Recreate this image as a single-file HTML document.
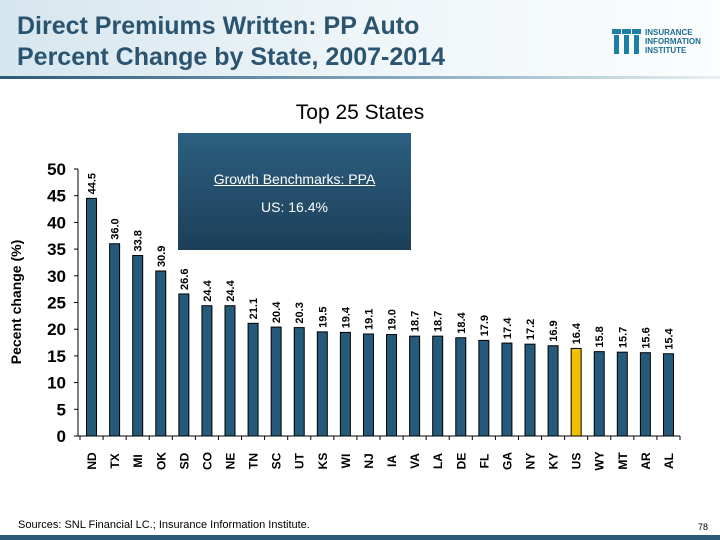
<!DOCTYPE html>
<html><head><meta charset="utf-8"><style>
body{margin:0;width:720px;height:540px;overflow:hidden;background:#fff;font-family:"Liberation Sans",sans-serif;position:relative}
.hdr{position:absolute;left:0;top:0;width:720px;height:78px;background:linear-gradient(90deg,#d6e6ee 0%,#eef5f8 50%,#fbfdfe 100%)}
.hline{position:absolute;left:0;top:76px;width:720px;height:3px;background:linear-gradient(90deg,#2a5a78,#8fb0c2 60%,#e8f0f4)}
.title{position:absolute;left:17px;top:11px;font-size:25px;line-height:31px;color:#2a5470;font-weight:bold}
.logo{position:absolute;left:610px;top:25px}
.sub{position:absolute;left:0;width:720px;top:101px;text-align:center;font-size:21px;color:#000}
.box{position:absolute;left:178px;top:133px;width:233px;height:117px;background:linear-gradient(180deg,#2c5f80,#1c3f58)}
.src{position:absolute;left:18px;top:519px;font-size:11px}
.pg{position:absolute;left:698px;top:522px;font-size:9px}
.bot{position:absolute;left:0;top:535px;width:720px;height:5px;background:#2a5a78}
</style></head><body>
<div class="hdr"></div>
<div class="hline"></div>
<div class="title">Direct Premiums Written: PP Auto<br>Percent Change by State, 2007-2014</div>
<svg class="logo" width="105" height="32">
<g fill="#1d7fa6"><rect x="2" y="4" width="9" height="5"/><rect x="12" y="4" width="9" height="5"/><rect x="22" y="4" width="9" height="5"/><rect x="4" y="10" width="5" height="19"/><rect x="14" y="10" width="5" height="19"/><rect x="24" y="10" width="5" height="19"/></g>
<text x="35" y="10" font-size="8" font-weight="bold" fill="#1d6f90" font-family="Liberation Sans">INSURANCE</text>
<text x="35" y="19" font-size="8" font-weight="bold" fill="#1d6f90" font-family="Liberation Sans">INFORMATION</text>
<text x="35" y="28" font-size="8" font-weight="bold" fill="#1d6f90" font-family="Liberation Sans">INSTITUTE</text>
</svg>
<div class="sub">Top 25 States</div>
<div class="box">
<div style="position:absolute;top:38px;width:100%;text-align:center;color:#fff;font-size:14px;text-decoration:underline">Growth Benchmarks: PPA</div>
<div style="position:absolute;top:66px;width:100%;text-align:center;color:#fff;font-size:14px">US: 16.4%</div>
</div>
<svg id="chart" width="720" height="540" style="position:absolute;left:0;top:0"></svg>
<div class="src">Sources:  SNL Financial LC.; Insurance Information Institute.</div>
<div class="pg">78</div>
<div class="bot"></div>
<script>
const states=["ND","TX","MI","OK","SD","CO","NE","TN","SC","UT","KS","WI","NJ","IA","VA","LA","DE","FL","GA","NY","KY","US","WY","MT","AR","AL"];
const values=[44.5,36.0,33.8,30.9,26.6,24.4,24.4,21.1,20.4,20.3,19.5,19.4,19.1,19.0,18.7,18.7,18.4,17.9,17.4,17.2,16.9,16.4,15.8,15.7,15.6,15.4];
const yTicks=[0,5,10,15,20,25,30,35,40,45,50];
const NS="http://www.w3.org/2000/svg";
const svg=document.getElementById('chart');
const x0=80,x1=680,y0=436,y1=169;
const slot=(x1-x0)/states.length;
const ys=v=>y0-(v/50)*(y0-y1);
const xs=i=>x0+slot*(i+0.5);
function mk(t,a){const e=document.createElementNS(NS,t);for(const k in a)e.setAttribute(k,a[k]);svg.appendChild(e);return e;}
let ax=mk('line',{x1:x0-2,y1:y1,x2:x0-2,y2:y0,stroke:'#000'});


let bx=mk('line',{x1:x0-2,y1:y0,x2:x1,y2:y0,stroke:'#000'});


yTicks.forEach(v=>{
 mk('line',{x1:x0-6,x2:x0-2,y1:ys(v),y2:ys(v),stroke:'#000'});
 const t=mk('text',{x:66,y:ys(v)+6,'text-anchor':'end','font-size':17,'font-weight':'bold','font-family':'Liberation Sans'});
 t.textContent=v;
 
 
});
for(let i=0;i<=states.length;i++){mk('line',{x1:x0+slot*i,x2:x0+slot*i,y1:y0,y2:y0+4,stroke:'#000'});}
states.forEach((s,i)=>{
 const v=values[i],cx=xs(i),w=10;
 const r=mk('rect',{x:cx-w/2,y:ys(v),width:w,height:y0-ys(v),fill:s==='US'?'#f0c000':'#255a7a',stroke:'#000','stroke-width':1});
 
 
 const l=mk('text',{transform:`translate(${cx+4},${ys(v)-4}) rotate(-90)`,'font-size':11,'font-weight':'bold','font-family':'Liberation Sans'});
 l.textContent=v.toFixed(1);
 
 
 const c=mk('text',{transform:`translate(${cx+4.5},${y0+25}) rotate(-90)`,'font-size':12,'font-weight':'bold','font-family':'Liberation Sans','text-anchor':'middle'});
 c.textContent=s;
 
 
});
const yt=mk('text',{transform:'translate(21,302) rotate(-90)','text-anchor':'middle','font-size':14,'font-weight':'bold','font-family':'Liberation Sans'});
yt.textContent='Pecent change (%)';


</script>
</body></html>
